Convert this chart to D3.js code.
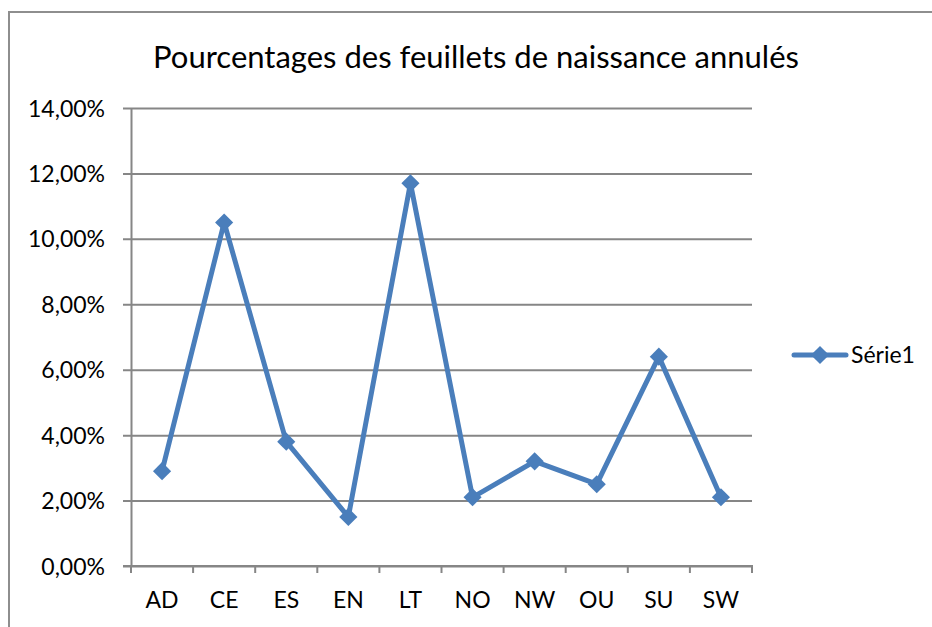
<!DOCTYPE html>
<html>
<head>
<meta charset="utf-8">
<script src="https://cdn.jsdelivr.net/npm/d3@7"></script>
<style>
  html, body { margin: 0; padding: 0; background: #fff; }
  svg { display: block; font-family: Lato, "Open Sans", sans-serif; }
</style>
</head>
<body>
<svg id="chart" width="932" height="627"></svg>
<script>
// Share of cancelled birth sheets per region
const categories = ["AD", "CE", "ES", "EN", "LT", "NO", "NW", "OU", "SU", "SW"];
const values = [0.029, 0.105, 0.038, 0.015, 0.117, 0.021, 0.032, 0.025, 0.064, 0.021];
const yTicks = [0, 0.02, 0.04, 0.06, 0.08, 0.10, 0.12, 0.14];
const seriesName = "Série1";
const title = "Pourcentages des feuillets de naissance annulés";

const svg = d3.select("#chart");
const lineColor = "#4a7ebb";
const gridColor = "#868686";
const font = "Lato, 'Open Sans', sans-serif";

// chart frame
svg.append("rect")
  .attr("x", 9).attr("y", 12)
  .attr("width", 940).attr("height", 640)
  .attr("fill", "#fff")
  .attr("stroke", "#8e8e8e").attr("stroke-width", 2);

const plot = { left: 131, right: 752, top: 108, bottom: 566 };

const x = d3.scaleBand().domain(categories).range([plot.left, plot.right]);
const y = d3.scaleLinear().domain([0, 0.14]).range([plot.bottom, plot.top]);

const fmt = v => d3.format(".2f")(v * 100).replace(".", ",") + "%";

// horizontal gridlines + y axis
const yAxis = d3.axisLeft(y).tickValues(yTicks).tickFormat(fmt)
  .tickSize(-(plot.right - plot.left)).tickSizeOuter(0).tickPadding(26);
const gy = svg.append("g").attr("transform", `translate(${plot.left},0)`).call(yAxis);
gy.attr("font-family", font).attr("font-size", 23);
gy.select(".domain").attr("stroke", gridColor).attr("stroke-width", 2);
gy.selectAll(".tick line").attr("stroke", gridColor).attr("stroke-width", 2)
  .attr("x1", -8);
gy.selectAll(".tick text").attr("fill", "#000").attr("dy", "0.35em");

// x axis
const xAxis = d3.axisBottom(x).tickSize(0).tickSizeOuter(0).tickPadding(26);
const gx = svg.append("g").attr("transform", `translate(0,${plot.bottom})`).call(xAxis);
gx.attr("font-family", font).attr("font-size", 23);
gx.select(".domain").remove();
gx.selectAll(".tick text").attr("fill", "#000");
// category boundary ticks
const bounds = categories.map(c => x(c)).concat([plot.right]);
gx.selectAll(".bound").data(bounds).enter().append("line")
  .attr("class", "bound")
  .attr("x1", d => d).attr("x2", d => d)
  .attr("y1", -1).attr("y2", 7)
  .attr("stroke", gridColor).attr("stroke-width", 2);
svg.append("line")
  .attr("x1", plot.left - 8).attr("x2", plot.right + 1)
  .attr("y1", plot.bottom).attr("y2", plot.bottom)
  .attr("stroke", gridColor).attr("stroke-width", 2);

// data line
const cx = c => x(c) + x.bandwidth() / 2;
const line = d3.line().x((d, i) => cx(categories[i])).y(d => y(d));
svg.append("path").datum(values)
  .attr("d", line)
  .attr("fill", "none")
  .attr("stroke", lineColor).attr("stroke-width", 5)
  .attr("stroke-linejoin", "round").attr("stroke-linecap", "round");

const diamond = d3.symbol().type(d3.symbolDiamond2).size(210);
svg.selectAll(".marker").data(values).enter().append("path")
  .attr("class", "marker")
  .attr("d", diamond)
  .attr("transform", (d, i) => `translate(${cx(categories[i])},${y(d)})`)
  .attr("fill", lineColor);

// title
svg.append("text")
  .attr("x", 476).attr("y", 68)
  .attr("text-anchor", "middle")
  .attr("font-size", 31)
  .attr("font-family", font)
  .attr("fill", "#000")
  .text(title);

// legend
const lg = svg.append("g").attr("transform", "translate(0,355)");
lg.append("line").attr("x1", 794).attr("x2", 846).attr("y1", 0).attr("y2", 0)
  .attr("stroke", lineColor).attr("stroke-width", 5).attr("stroke-linecap", "round");
lg.append("path").attr("d", diamond).attr("transform", "translate(820,0)").attr("fill", lineColor);
lg.append("text").attr("x", 851).attr("y", 8).attr("font-size", 23).attr("font-family", font)
  .attr("fill", "#000").text(seriesName);
</script>
</body>
</html>
